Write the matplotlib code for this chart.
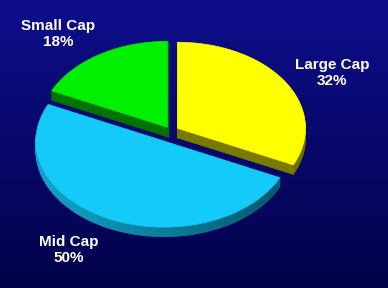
"""Exploded 3D-style pie of market-cap allocation on a navy gradient."""

import numpy as np
import matplotlib.pyplot as plt
from matplotlib.patches import Polygon
from matplotlib.colors import to_rgb

CATEGORIES = ["Large Cap", "Mid Cap", "Small Cap"]
SHARES = [32, 50, 18]
TOP_COLORS = ["#ffff00", "#14caf8", "#00f000"]

# layout (pixel space, y down)
W, H = 388, 288
BASE_CENTER = (171.0, 131.0)
RX, RY = 128.0, 86.0
DEPTH = 9.5
EXPLODE = [0.06, 0.13, 0.05]
LABEL_POS = [(332, 73), (69, 250), (58, 34)]

BG_TOP = np.array(to_rgb("#0e0e8c"))
BG_BOTTOM = np.array(to_rgb("#02024a"))


def shade(color, f):
    return tuple(np.clip(np.array(to_rgb(color)) * f, 0, 1))


fig = plt.figure(figsize=(W / 100, H / 100), dpi=100)
ax = fig.add_axes([0, 0, 1, 1])
ax.set_xlim(0, W)
ax.set_ylim(H, 0)
ax.axis("off")

grad = np.linspace(0, 1, 256)[:, None, None]
bg = BG_TOP * (1 - grad) + BG_BOTTOM * grad
ax.imshow(bg, extent=(0, W, H, 0), aspect="auto", zorder=0)

# back slices first, front (Mid Cap) last
order = [2, 0, 1]
starts = 90 - np.concatenate([[0], np.cumsum(SHARES)[:-1]]) * 3.6

for i in order:
    t0 = starts[i]
    t1 = t0 - SHARES[i] * 3.6
    mid = np.radians((t0 + t1) / 2)
    cx = BASE_CENTER[0] + EXPLODE[i] * RX * np.cos(mid)
    cy = BASE_CENTER[1] - EXPLODE[i] * RY * np.sin(mid)

    t = np.radians(np.linspace(t0, t1, 80))
    arc = np.column_stack([cx + RX * np.cos(t), cy - RY * np.sin(t)])
    top = np.vstack([[cx, cy], arc])
    color = TOP_COLORS[i]

    # side walls: arc segments shaded by direction, radial cuts darker
    for k in range(len(arc) - 1):
        p, q = arc[k], arc[k + 1]
        if np.sin(t[k]) > 0.05 and np.sin(t[k + 1]) > 0.05:
            continue
        f = 0.62 - 0.2 * np.cos((t[k] + t[k + 1]) / 2)
        quad = [p, q, q + [0, DEPTH], p + [0, DEPTH]]
        c = shade(color, f)
        ax.add_patch(Polygon(quad, closed=True, facecolor=c, edgecolor=c,
                             linewidth=0.6, zorder=2))
    for p, q in [(top[0], arc[0]), (arc[-1], top[0])]:
        quad = [p, q, q + [0, DEPTH], p + [0, DEPTH]]
        c = shade(color, 0.48)
        ax.add_patch(Polygon(quad, closed=True, facecolor=c, edgecolor=c,
                             linewidth=0.6, zorder=2))

    ax.add_patch(Polygon(top, closed=True, facecolor=color, edgecolor=color,
                         linewidth=0.5, zorder=3))

for name, share, (x, y) in zip(CATEGORIES, SHARES, LABEL_POS):
    ax.text(x, y, f"{name}\n{share}%", ha="center", va="center",
            color="white", fontsize=11, fontweight="bold",
            family=["Liberation Sans", "DejaVu Sans"], linespacing=1.1,
            zorder=5)

fig.savefig("out.png", dpi=100)
